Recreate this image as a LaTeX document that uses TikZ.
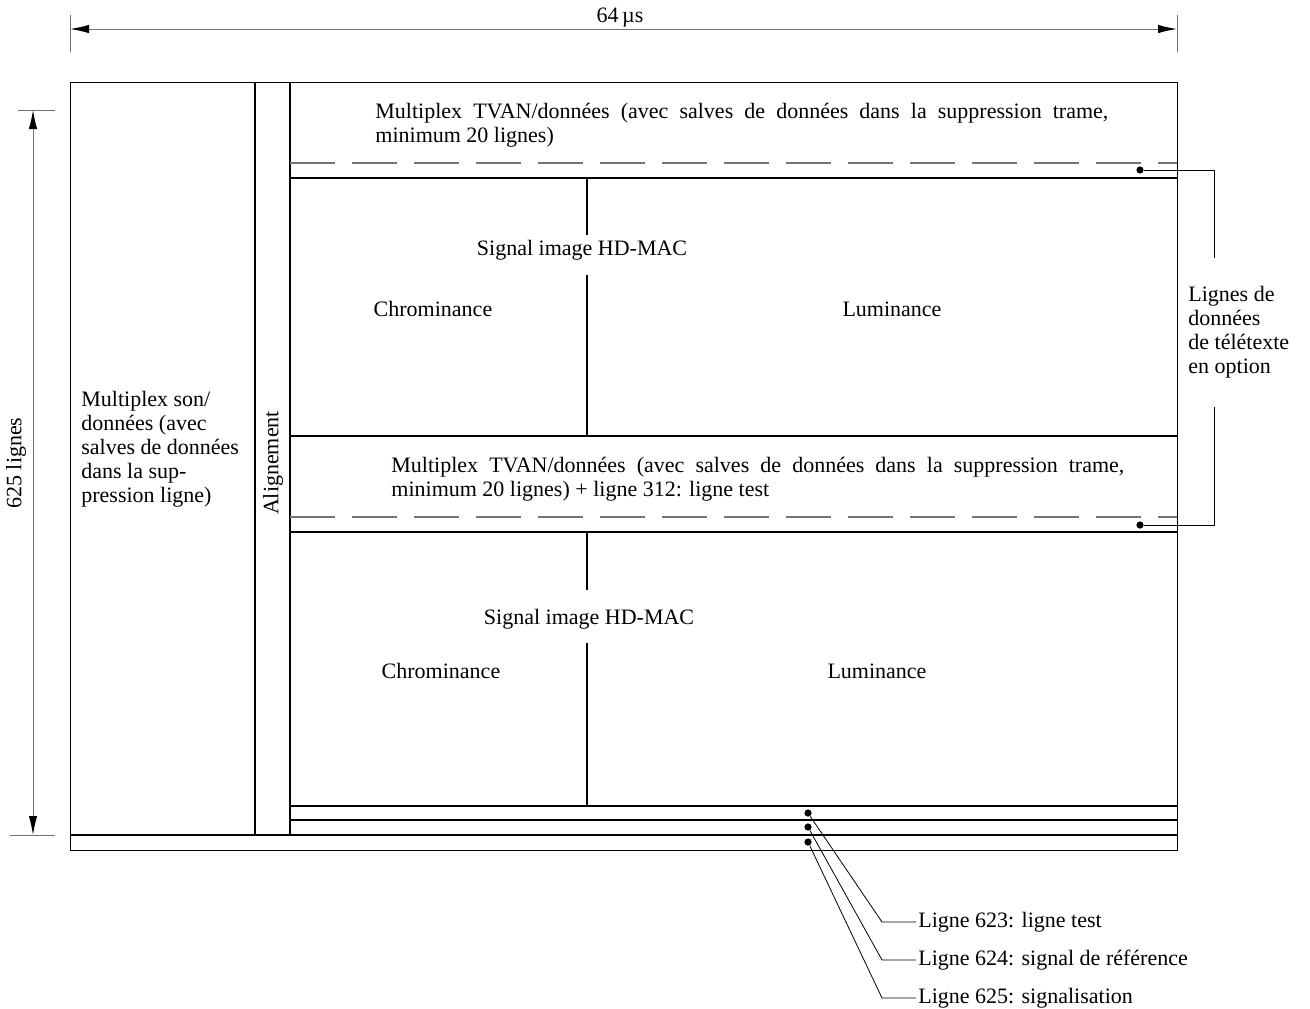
\documentclass[tikz,border=0pt]{standalone}
\usepackage{fontspec}
\setmainfont{Liberation Serif}
\usetikzlibrary{arrows.meta,positioning,calc}

\begin{document}
\begin{tikzpicture}[x=0.5pt, y=-0.5pt,
        frame/.style={draw=black, line width=0.5pt},
        bar/.style={draw=black, line width=0.8pt},
        dimline/.style={draw=black!55, line width=0.5pt},
        dimarrow/.style={dimline, {Latex[length=9.5pt, width=4.2pt, color=black]}-{Latex[length=9.5pt, width=4.2pt, color=black]}},
        dashline/.style={draw=black!55, line width=0.6pt, dash pattern=on 22.5pt off 8.5pt},
        leader/.style={draw=black, line width=0.4pt},
        dot/.style={circle, fill=black, inner sep=0pt, minimum size=3.6pt},
        label/.style={font=\fontsize{11}{12}\selectfont, inner sep=0pt, align=left},
        callout/.style={font=\fontsize{11}{12}\selectfont, inner sep=1pt, anchor=west}
    ]

    \useasboundingbox (0,0) rectangle (1310,1008);

    \def\xl{290}   % left edge of picture area
    \def\xr{1177}  % right edge of frame
    \def\tw{366.5pt} % width of the justified first line

    % Dimension 64 us
    \draw[dimline] (70,15) -- (70,52);
    \draw[dimline] (\xr,15) -- (\xr,52);
    \coordinate (wl) at (70,29);
    \coordinate (wr) at (\xr,29);
    \draw[dimarrow] (wl) -- (wr);
    \node[label] (lblWidth) at (620,18) {64\,µs};

    % Dimension 625 lignes
    \draw[dimline] (18,110) -- (55,110);
    \draw[dimline] (10,835) -- (55,835);
    \coordinate (ht) at (33,110);
    \coordinate (hb) at (33,835);
    \draw[dimarrow] (ht) -- (hb);
    \node[label, rotate=90] (lblHeight) at (16,463) {625 lignes};

    % Frame and columns
    \draw[frame] (70,82) rectangle (\xr,850);
    \draw[bar] (70,835) -- (\xr,835);
    \draw[bar] (255,82) -- (255,835);
    \draw[bar] (\xl,82) -- (\xl,835);
    \foreach \y in {178,436,532,806,820} {
        \draw[bar] (\xl,\y) -- (\xr,\y);
    }
    \foreach \y in {163,517} {
        \draw[dashline] (\xl,\y) -- (\xr,\y);
    }

    % Chrominance / luminance split
    \draw[bar] (587,178) -- (587,235);
    \draw[bar] (587,275) -- (587,436);
    \draw[bar] (587,532) -- (587,590);
    \draw[bar] (587,643) -- (587,806);

    % Left columns
    \node[label, anchor=west] (sonData) at (81,449) {Multiplex son/\\données (avec\\salves de données\\dans la sup-\\pression ligne)};
    \node[label, rotate=90] (align) at (273,463) {Alignement};

    % Upper field
    \node[label, anchor=west] (tvanTop) at (375,125) {\makebox[\tw][s]{Multiplex TVAN/données (avec salves de données dans la suppression trame,}\\minimum 20 lignes)};
    \node[label] (sigTop) at (582,250) {Signal image HD-MAC};
    \node[label] (chromTop) at (433,309) {Chrominance};
    \node[label] (lumTop) at (892,309) {Luminance};

    % Lower field
    \node[label, anchor=west] (tvanMid) at (391,479) {\makebox[\tw][s]{Multiplex TVAN/données (avec salves de données dans la suppression trame,}\\minimum 20 lignes) + ligne 312: ligne test};
    \node[label] (sigMid) at (589,619) {Signal image HD-MAC};
    \node[label] (chromMid) at (441,671) {Chrominance};
    \node[label] (lumMid) at (877,671) {Luminance};

    % Teletext lines
    \node[dot] (dotTop) at (1140,170) {};
    \node[dot] (dotMid) at (1140,525) {};
    \node[label, anchor=west] (teletext) at (1188,332) {Lignes de\\données\\de télétexte\\en option};
    \coordinate (gapTop) at (1214,258);
    \coordinate (gapBot) at (1214,407);
    \draw[leader] (dotTop) -| (gapTop);
    \draw[leader] (dotMid) -| (gapBot);

    % Lines 623 to 625
    \node[dot] (dot623) at (808,813) {};
    \node[dot] (dot624) at (808,827) {};
    \node[dot] (dot625) at (808,842) {};
    \node[callout] (l623) at (916,922) {Ligne 623: ligne test};
    \node[callout] (l624) at (916,960) {Ligne 624: signal de référence};
    \node[callout] (l625) at (916,998) {Ligne 625: signalisation};
    \foreach \n in {623,624,625} {
        \draw[leader] (dot\n) -- ([xshift=-17pt]l\n.west) -- (l\n.west);
    }

\end{tikzpicture}
\end{document}
